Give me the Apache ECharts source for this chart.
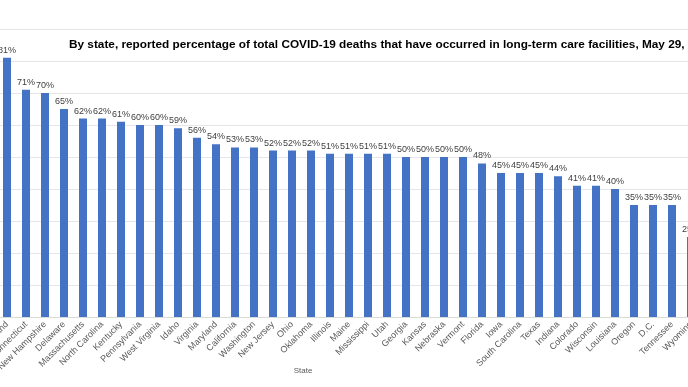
<!DOCTYPE html>
<html>
<head>
<meta charset="utf-8">
<script src="https://cdn.jsdelivr.net/npm/echarts@6/dist/echarts.min.js"></script>
<style>html,body{margin:0;padding:0;background:#fff;}#c{width:688px;height:387px;}</style>
</head>
<body>
<div id="c"></div>
<script>
const states = ["Rhode Island","Connecticut","New Hampshire","Delaware","Massachusetts","North Carolina","Kentucky","Pennsylvania","West Virginia","Idaho","Virginia","Maryland","California","Washington","New Jersey","Ohio","Oklahoma","Illinois","Maine","Mississippi","Utah","Georgia","Kansas","Nebraska","Vermont","Florida","Iowa","South Carolina","Texas","Indiana","Colorado","Wisconsin","Louisiana","Oregon","D.C.","Tennessee","Wyoming"];
const pct = [81,71,70,65,62,62,61,60,60,59,56,54,53,53,52,52,52,51,51,51,51,50,50,50,50,48,45,45,45,44,41,41,40,35,35,35,25];
const titleText = "By state, reported percentage of total COVID-19 deaths that have occurred in long-term care facilities, May 29, 2020";
const xName = "State";

const chart = echarts.init(document.getElementById('c'));
chart.setOption({
  animation: false,
  title: {
    text: titleText,
    left: 64, top: 34,
    textStyle: {fontFamily: 'Liberation Sans, Arial, sans-serif', fontWeight: 'bold', fontSize: 11.8, color: '#000'}
  },
  grid: {left: -2.5, right: -12.5, top: 29, bottom: 70, containLabel: false, outerBoundsMode: 'none'},
  xAxis: {
    type: 'category',
    data: states,
    name: xName,
    nameLocation: 'middle',
    nameGap: 50,
    nameMoveOverlap: false,
    nameTextStyle: {fontFamily: 'Liberation Sans, Arial, sans-serif', fontSize: 8, color: '#595959', padding: [0, 92, 0, 0]},
    axisTick: {show: false},
    axisLine: {lineStyle: {color: '#d9d9d9'}},
    axisLabel: {rotate: 45, interval: 0, hideOverlap: false, fontFamily: 'Liberation Sans, Arial, sans-serif', fontSize: 9, color: '#595959', margin: 6}
  },
  yAxis: {
    type: 'value', min: 0, max: 90, interval: 10,
    axisLabel: {show: false},
    axisLine: {show: false}, axisTick: {show: false},
    splitLine: {lineStyle: {color: '#e6e6e6'}}
  },
  series: [{
    type: 'bar',
    data: pct,
    barWidth: 8,
    itemStyle: {color: '#4472C4'},
    label: {show: true, position: 'top', distance: 3, formatter: '{c}%', fontFamily: 'Liberation Sans, Arial, sans-serif', fontSize: 9, color: '#404040'}
  }]
});
</script>
</body>
</html>
